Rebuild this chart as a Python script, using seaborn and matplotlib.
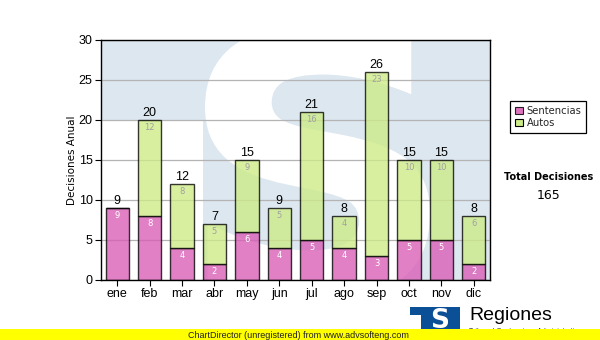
import matplotlib
matplotlib.use("Agg")
import matplotlib.pyplot as plt
from matplotlib.textpath import TextPath
from matplotlib.font_manager import FontProperties
from matplotlib.patches import PathPatch, Rectangle, Patch
from matplotlib.transforms import Affine2D
import numpy as np
import pandas as pd
import seaborn as sns

# Monthly decisions
meses = ["ene", "feb", "mar", "abr", "may", "jun", "jul", "ago", "sep", "oct", "nov", "dic"]
sentencias = [9, 8, 4, 2, 6, 4, 5, 4, 3, 5, 5, 2]
autos = [0, 12, 8, 5, 9, 5, 16, 4, 23, 10, 10, 6]
series_names = ["Sentencias", "Autos"]

totales = [s + a for s, a in zip(sentencias, autos)]
total_decisiones = sum(totales)

df = pd.DataFrame({"mes": meses, "Sentencias": sentencias, "Autos": autos})

sns.set_theme(style="white")
plt.rcParams["font.family"] = ["DejaVu Sans"]

W, H = 600, 340
fig = plt.figure(figsize=(W / 100, H / 100), dpi=100)
fig.patch.set_facecolor("white")

# plot area in pixel coordinates
L, R, T, B = 101, 490, 40, 280
ax = fig.add_axes([L / W, 1 - B / H, (R - L) / W, (B - T) / H])
ax.set_facecolor("#dde7f0")

pink = "#d95cb5"
green = "#cdeb86"
bar_alpha = 0.78
bar_w = 0.72

sns.barplot(data=df, x="mes", y="Sentencias", order=meses, color=pink,
            width=bar_w, edgecolor="black", linewidth=1.0, alpha=bar_alpha,
            saturation=1, ax=ax, zorder=3)
sns.barplot(data=df, x="mes", y="Autos", order=meses, color=green,
            width=bar_w, edgecolor="black", linewidth=1.0, alpha=bar_alpha,
            saturation=1, bottom=np.array(sentencias, dtype=float), ax=ax, zorder=3)

n = len(meses)
px_x = (R - L) / n          # pixels per category
px_y = (B - T) / 30.0       # pixels per unit


def to_data(xp, yp):
    return (xp - L) / px_x - 0.5, (B - yp) / px_y


# large "S" watermark behind the bars
fp = FontProperties(family="DejaVu Sans", weight="bold")
tp = TextPath((0, 0), "S", size=1, prop=fp)
ext = tp.get_extents()
x0, y0 = to_data(205, 300)
x1, y1 = to_data(430, 25)
tr = Affine2D().translate(-ext.x0, -ext.y0).scale((x1 - x0) / ext.width, (y1 - y0) / ext.height).translate(x0, y0)
ax.add_patch(PathPatch(tr.transform_path(tp), facecolor="white", edgecolor="none", zorder=0.3))
# white lower-left block of the watermark
bx0, by0 = to_data(L - 2, B + 2)
bx1, by1 = to_data(203, 121)
ax.add_patch(Rectangle((bx0, by0), bx1 - bx0, by1 - by0, facecolor="white",
                       edgecolor="none", zorder=0.3))
ax.set_xlim(-0.5, n - 0.5)
ax.set_ylim(0, 30)

ax.set_yticks(range(0, 31, 5))
ax.yaxis.grid(True, color="#b4b4b4", linewidth=0.9)
ax.xaxis.grid(False)
ax.set_axisbelow(False)
for gl in ax.get_ygridlines():
    gl.set_zorder(1)

for s in ax.spines.values():
    s.set_color("black")
    s.set_linewidth(1.0)
    s.set_visible(True)
    s.set_zorder(5)

ax.tick_params(axis="both", which="both", direction="out", length=4, width=0.8,
               color="black", labelsize=9, pad=2, left=True, bottom=True)
for lab in ax.get_xticklabels() + ax.get_yticklabels():
    lab.set_fontfamily("Liberation Sans")
    lab.set_color("black")
ax.set_xlabel("")
ax.set_ylabel("Decisiones Anual", fontsize=7.5, color="black", labelpad=1)

# value labels
for i, (s, a, t) in enumerate(zip(sentencias, autos, totales)):
    ax.annotate(str(t), (i, t), xytext=(0, 1), textcoords="offset points",
                ha="center", va="bottom", fontsize=9, family="Liberation Sans",
                color="black", zorder=6)
    if s > 0:
        ax.annotate(str(s), (i, s), xytext=(0, -2.5), textcoords="offset points",
                    ha="center", va="top", fontsize=6, color="white", zorder=6)
    if a > 0:
        ax.annotate(str(a), (i, t), xytext=(0, -2.5), textcoords="offset points",
                    ha="center", va="top", fontsize=6, color="#a0a0a0", zorder=6)

# legend
handles = [Patch(facecolor=pink, edgecolor="black", linewidth=0.8, alpha=0.85),
           Patch(facecolor=green, edgecolor="black", linewidth=0.8)]
leg = fig.legend(handles, series_names, loc="upper left",
                 bbox_to_anchor=(510 / W, 1 - 101 / H), fontsize=7.2,
                 frameon=True, fancybox=False, edgecolor="black", framealpha=1,
                 handlelength=0.8, handleheight=0.8, handletextpad=0.35,
                 borderpad=0.5, labelspacing=0.2, borderaxespad=0)
leg.get_frame().set_linewidth(0.9)

fig.text(549 / W, 1 - 177 / H, "Total Decisiones", ha="center", va="center",
         fontsize=7, fontweight="bold", color="black")
fig.text(549 / W, 1 - 196 / H, str(total_decisiones), ha="center", va="center",
         fontsize=9, color="black")

# footer logo: top bar plus block with a white "S"
logo_blue = "#0b4f96"
fig.patches.append(Rectangle((410 / W, 1 - 315 / H), 50 / W, 8 / H,
                             transform=fig.transFigure, facecolor=logo_blue,
                             edgecolor="none", zorder=1))
fig.patches.append(Rectangle((421 / W, 1 - 340 / H), 39 / W, 26 / H,
                             transform=fig.transFigure, facecolor=logo_blue,
                             edgecolor="none", zorder=1))
fig.text(440 / W, 1 - 321 / H, "S", ha="center", va="center", fontsize=19,
         fontweight="bold", color="white", zorder=2)
fig.text(469 / W, 1 - 315 / H, "Regiones", ha="left", va="center",
         fontsize=14, family="Liberation Sans", color="black", zorder=2)
fig.text(469 / W, 1 - 328 / H, "Tribunal Contencioso Administrativo", ha="left",
         va="top", fontsize=5, family="Liberation Sans", color="#333333", zorder=2)

# footer band
fig.patches.append(Rectangle((0, 0), 1, 11 / H, transform=fig.transFigure,
                             facecolor="#ffff00", edgecolor="none", zorder=3))
fig.text(298 / W, 1 - 335 / H, "ChartDirector (unregistered) from www.advsofteng.com",
         ha="center", va="center", fontsize=6.5, family="Liberation Sans",
         color="#202020", zorder=4)

fig.savefig("out.png", dpi=100, facecolor="white")
